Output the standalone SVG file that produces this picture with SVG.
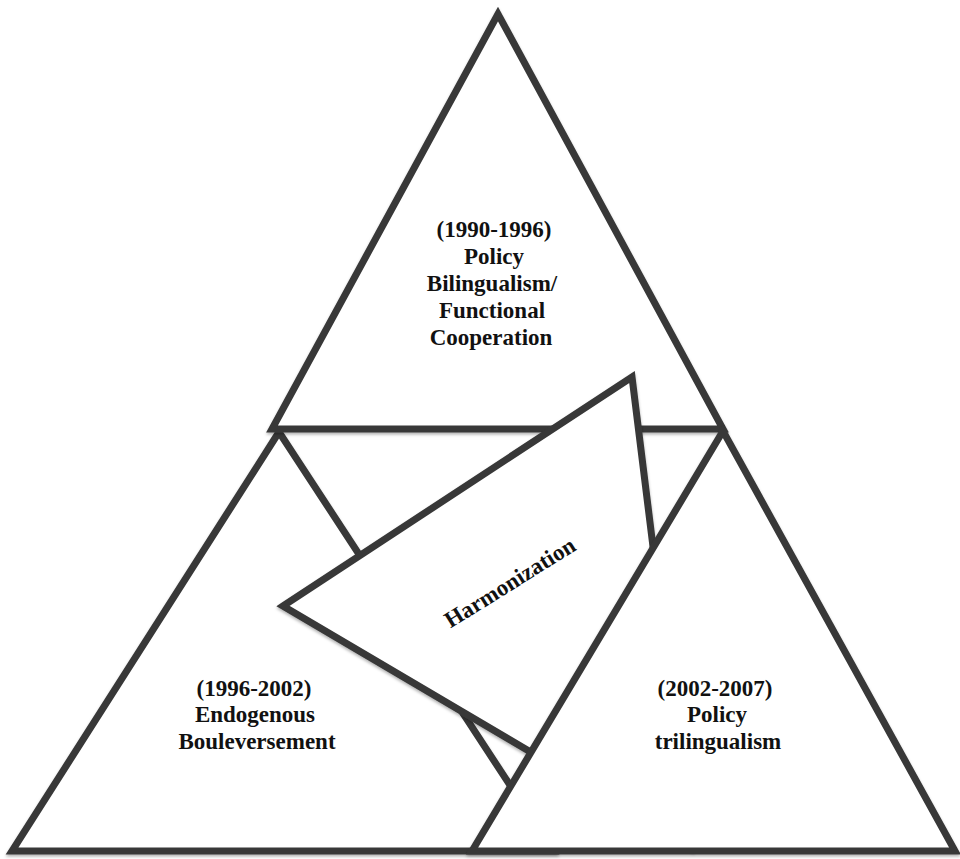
<svg xmlns="http://www.w3.org/2000/svg" width="960" height="859" viewBox="0 0 960 859">
<defs>
<filter id="sh" x="-5%" y="-5%" width="110%" height="110%">
<feDropShadow dx="0" dy="2" stdDeviation="1.5" flood-color="#000" flood-opacity="0.3"/>
</filter>
</defs>
<style>
.tri{fill:#fff;stroke:#383838;stroke-width:7;stroke-linejoin:miter;stroke-miterlimit:10;filter:url(#sh)}
.lbl{font-family:"Liberation Serif","Times New Roman",serif;font-weight:bold;font-size:23px;fill:#111;text-anchor:middle}
</style>
<rect width="960" height="859" fill="#fff"/>
<g id="left">
<polygon class="tri" points="279,432 12,851 553,851"/>
<text class="lbl" x="254" y="696">(1996-2002)</text>
<text class="lbl" x="255" y="722">Endogenous</text>
<text class="lbl" x="257" y="749">Bouleversement</text>
</g>
<g id="top">
<polygon class="tri" points="498,14 272,429 723,429"/>
<text class="lbl" x="494" y="237">(1990-1996)</text>
<text class="lbl" x="494" y="264">Policy</text>
<text class="lbl" x="492" y="291">Bilingualism/</text>
<text class="lbl" x="492" y="318">Functional</text>
<text class="lbl" x="491" y="345">Cooperation</text>
</g>
<g id="harmonization">
<polygon class="tri" points="283,606 632,377 690,846"/>
<text class="lbl" transform="translate(514,589) rotate(-32)" x="0" y="0">Harmonization</text>
</g>
<g id="right">
<polygon class="tri" points="723,431 472,851 955,851"/>
<text class="lbl" x="715" y="696">(2002-2007)</text>
<text class="lbl" x="717" y="722">Policy</text>
<text class="lbl" x="718" y="749">trilingualism</text>
</g>
</svg>
